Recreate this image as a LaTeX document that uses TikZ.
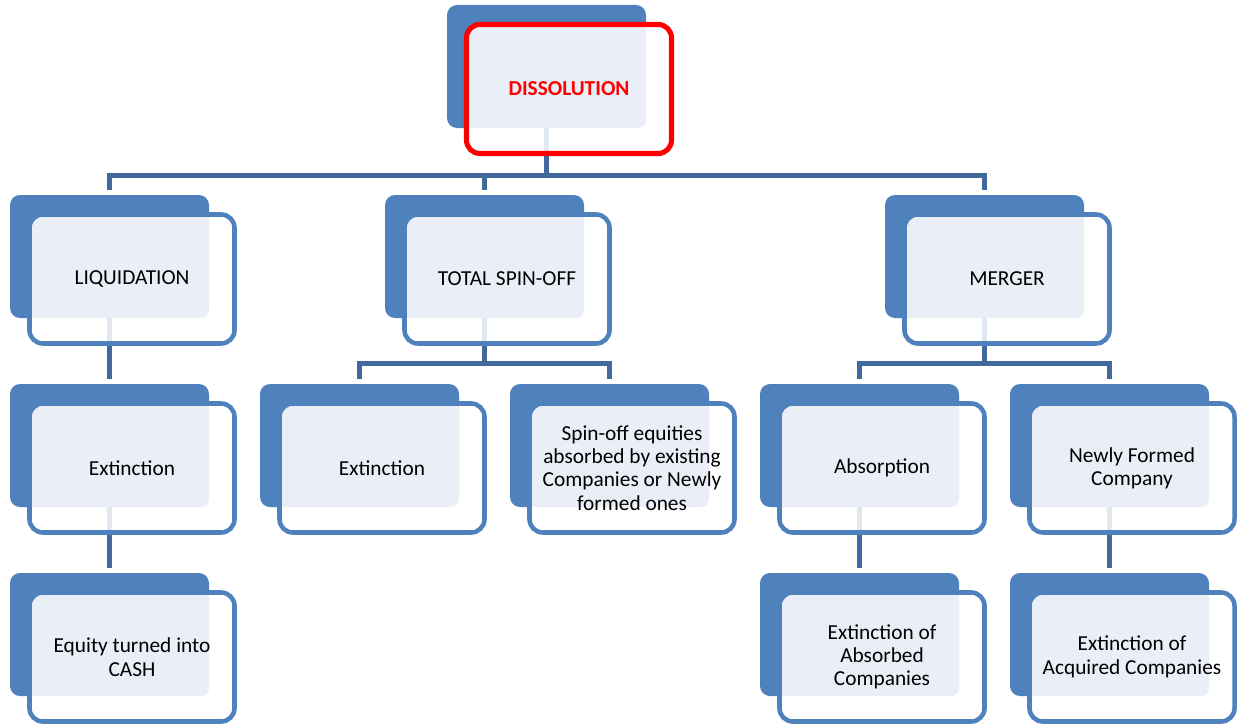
\documentclass[tikz,border=0pt]{standalone}
\usepackage{fontspec}
\setmainfont{Carlito}
\definecolor{backblue}{HTML}{4F81BD}
\definecolor{lineblue}{HTML}{41699B}
\definecolor{paleblue}{HTML}{EAEFF7}
\begin{document}
\begin{tikzpicture}[x=0.75pt,y=-0.75pt,
  back/.style={fill=backblue,rounded corners=7.5pt,minimum width=149.25pt,minimum height=92.25pt,inner sep=0pt},
  frame/.style={draw=backblue,line width=3.4pt,rounded corners=10pt,fill=white,fill opacity=0.85,text opacity=1,
    minimum width=153.75pt,minimum height=96.75pt,inner sep=0pt,align=center,
    font=\fontsize{16pt}{17.5pt}\selectfont,
    path picture={\fill[paleblue,fill opacity=1,rounded corners=6pt]
      ([shift={(-5pt,5pt)}]path picture bounding box.north west) rectangle
      ([shift={(134.6pt,-77.6pt)}]path picture bounding box.north west);}},
  link/.style={draw=lineblue,line width=3.6pt,shorten >=3.75pt}]
\useasboundingbox (0,0) rectangle (1238,724);
% shadow boxes
\node[back] (disb) at (546.5,66.5) {};
\node[back] (liqb) at (109.5,256.5) {};
\node[back] (spinb) at (484.5,256.5) {};
\node[back] (merb) at (984.5,256.5) {};
\node[back] (ext1b) at (109.5,445.5) {};
\node[back] (ext2b) at (359.5,445.5) {};
\node[back] (eqsb) at (609.5,445.5) {};
\node[back] (absb) at (859.5,445.5) {};
\node[back] (newb) at (1109.5,445.5) {};
\node[back] (cashb) at (109.5,634.5) {};
\node[back] (xabsb) at (859.5,634.5) {};
\node[back] (xacqb) at (1109.5,634.5) {};
% tree lines
\path[link] (disb.south) -- ++(0,47) -| (liqb.north);
\path[link] (disb.south) -- ++(0,47) -| (spinb.north);
\path[link] (disb.south) -- ++(0,47) -| (merb.north);
\path[link] (liqb.south) -- (ext1b.north);
\path[link] (spinb.south) -- ++(0,45) -| (ext2b.north);
\path[link] (spinb.south) -- ++(0,45) -| (eqsb.north);
\path[link] (merb.south) -- ++(0,45) -| (absb.north);
\path[link] (merb.south) -- ++(0,45) -| (newb.north);
\path[link] (ext1b.south) -- (cashb.north);
\path[link] (absb.south) -- (xabsb.north);
\path[link] (newb.south) -- (xacqb.north);
% front boxes
\node[frame,draw=red,line width=3.8pt,text=red] (dis) at (569,89) {\bfseries DISSOLUTION};
\node[frame] (liq) at (132,279) {LIQUIDATION};
\node[frame] (spin) at (507,279) {TOTAL SPIN-OFF};
\node[frame] (mer) at (1007,279) {MERGER};
\node[frame] (ext1) at (132,468) {Extinction};
\node[frame] (ext2) at (382,468) {Extinction};
\node[frame] (eqs) at (632,468) {Spin-off equities\\absorbed by existing\\Companies or Newly\\formed ones};
\node[frame] (abs) at (882,468) {Absorption};
\node[frame] (new) at (1132,468) {Newly Formed\\Company};
\node[frame] (cash) at (132,657) {Equity turned into\\CASH};
\node[frame] (xabs) at (882,657) {Extinction of\\Absorbed\\Companies};
\node[frame] (xacq) at (1132,657) {Extinction of\\Acquired Companies};
\end{tikzpicture}
\end{document}
